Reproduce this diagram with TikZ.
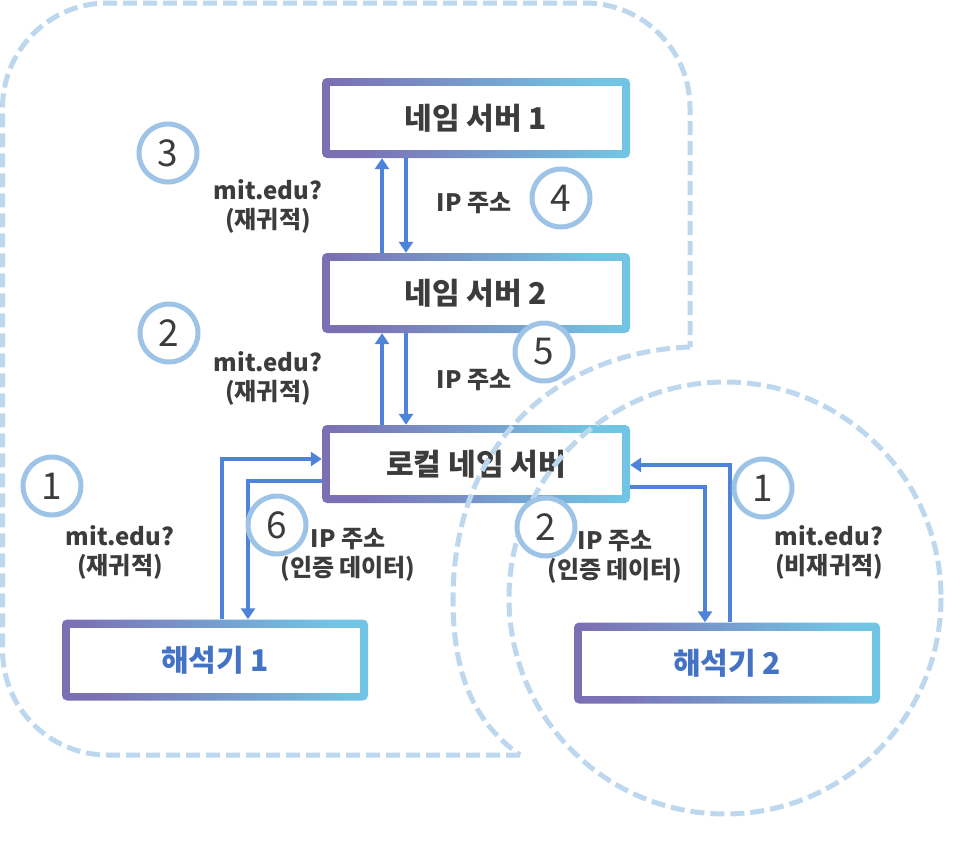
\documentclass[tikz,border=0pt]{standalone}
\usepackage{fontspec}
\setmainfont{Noto Sans CJK KR}
\usepackage{tikz}
\usetikzlibrary{arrows.meta,shapes}
\definecolor{boxpurple}{RGB}{123,112,180}
\definecolor{boxblue}{RGB}{114,196,228}
\definecolor{flowblue}{RGB}{77,131,217}
\definecolor{ringblue}{RGB}{157,195,230}
\definecolor{zoneblue}{RGB}{189,215,238}
\definecolor{txtgray}{RGB}{60,60,60}
\definecolor{resblue}{RGB}{68,114,196}

\begin{document}
\begin{tikzpicture}[x=1pt,y=-1pt,
    srvbox/.style={rounded corners=5pt,minimum width=308pt,minimum height=80pt,
      left color=boxpurple,right color=boxblue,shading angle=110,
      path picture={\fill[white,sharp corners] ([xshift=8pt,yshift=-8pt]path picture bounding box.north west)
        rectangle ([xshift=-8pt,yshift=8pt]path picture bounding box.south east);},
      text=txtgray,font=\bfseries\fontsize{30}{34}\selectfont},
    resbox/.style={srvbox,text=resblue,minimum width=306pt,minimum height=81pt},
    flow/.style={draw=flowblue,line width=4.5pt,-{Triangle[length=11pt,width=14pt]}},
    numring/.style={circle,draw=ringblue,line width=5pt,fill=white,minimum size=58pt,
      inner sep=0pt,text=txtgray,font=\fontsize{37}{37}\selectfont},
    lbl/.style={align=center,text=txtgray,font=\bfseries\fontsize{24}{29}\selectfont},
    zone/.style={draw=zoneblue,line width=5pt,dash pattern=on 14pt off 6pt}]
\useasboundingbox (0,0) rectangle (962,846);

\node[srvbox] (ns1) at (476,118) {네임 서버 1};
\node[srvbox] (ns2) at (476,293) {네임 서버 2};
\node[srvbox,minimum height=78pt] (local) at (476,464) {로컬 네임 서버};
\node[resbox] (res1) at (215,660) {해석기 1};
\node[resbox] (res2) at (727,663) {해석기 2};

\draw[flow] ([xshift=-94pt]ns2.north) -- ([xshift=-94pt]ns1.south);
\draw[flow] ([xshift=-70pt]ns1.south) -- ([xshift=-70pt]ns2.north);
\draw[flow] ([xshift=-94pt]local.north) -- ([xshift=-94pt]ns2.south);
\draw[flow] ([xshift=-70pt]ns2.south) -- ([xshift=-70pt]local.north);
\draw[flow] ([xshift=7pt]res1.north) |- ([yshift=5pt]local.west);
\draw[flow] ([yshift=-17pt]local.west) -| ([xshift=33pt]res1.north);
\draw[flow] ([xshift=3pt]res2.north) |- ([yshift=-1pt]local.east);
\draw[flow] ([yshift=-23pt]local.east) -| ([xshift=-22pt]res2.north);

% recursive and iterative zones
\draw[zone,rounded corners=105pt] (520,755) -- (2.5,755) -- (2.5,3) -- (690,3) -- (690,347);
\draw[zone] (690,347) .. controls (560,352) and (453,440) .. (453,600)
  .. controls (453,690) and (485,730) .. (520,755);
\draw[zone] (725,598) circle[radius=216];

\node[numring] (n3) at (168,153) {3};
\node[numring] (n4) at (561,198) {4};
\node[numring] (n2) at (169,333) {2};
\node[numring] (n5) at (544,352) {5};
\node[numring] (n1) at (52,486) {1};
\node[numring] (n6) at (277,525) {6};
\node[numring] (m2) at (546,527) {2};
\node[numring] (m1) at (763,488) {1};

\node[lbl] (q3) at (268,206) {mit.edu?\\(재귀적)};
\node[lbl] (q2) at (268,378) {mit.edu?\\(재귀적)};
\node[lbl] (q1) at (120,552) {mit.edu?\\(재귀적)};
\node[lbl] (a4) at (474,203) {IP 주소};
\node[lbl] (a5) at (474,380) {IP 주소};
\node[lbl] (a6) at (348,555) {IP 주소\\(인증 데이터)};
\node[lbl] (a2) at (615,557) {IP 주소\\(인증 데이터)};
\node[lbl] (p1) at (829,552) {mit.edu?\\(비재귀적)};
\end{tikzpicture}
\end{document}
